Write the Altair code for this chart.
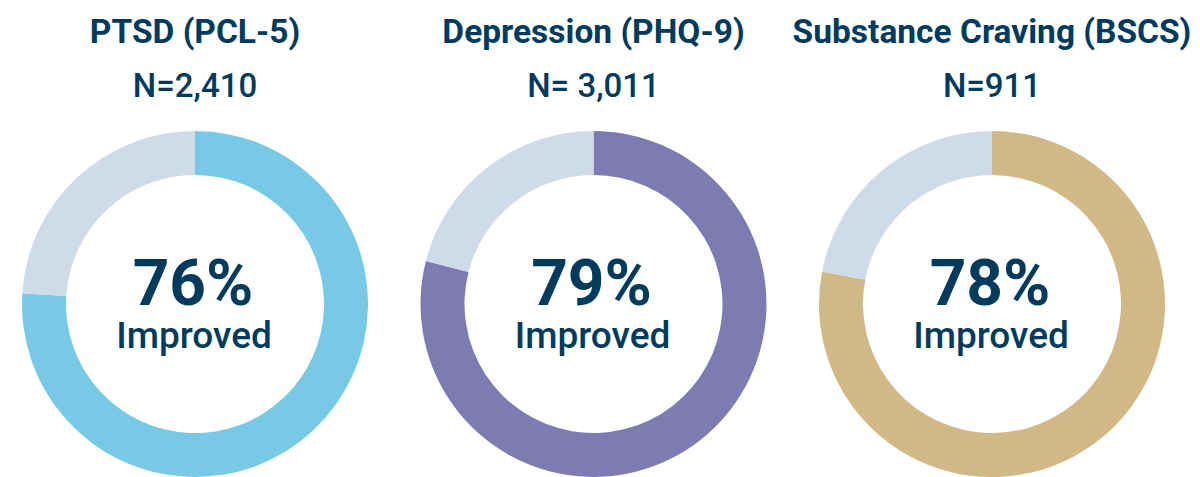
import altair as alt
import pandas as pd

titles = ["PTSD (PCL-5)", "Depression (PHQ-9)", "Substance Craving (BSCS)"]
n_labels = ["N=2,410", "N= 3,011", "N=911"]
improved_pct = [76, 79, 78]
segments = ["Improved", "Not improved"]
main_colors = ["#78C9E5", "#7E7BB3", "#D1B887"]
rest_color = "#CFDBE8"
text_color = "#003A5D"

PANEL_W = 374
PANEL_H = 469
CX = 187
CY = 296


def panel(i):
    p = improved_pct[i]
    arc_df = pd.DataFrame({
        "segment": segments,
        "value": [p, 100 - p],
        "order": [0, 1],
    })
    txt_df = pd.DataFrame({
        "title": [titles[i]],
        "n": [n_labels[i]],
        "pct": [f"{p}%"],
        "label": ["Improved"],
    })
    arcs = alt.Chart(arc_df).mark_arc(innerRadius=129, outerRadius=173).encode(
        theta=alt.Theta("value:Q", stack=True),
        order=alt.Order("order:Q"),
        color=alt.Color("segment:N",
                        scale=alt.Scale(domain=segments, range=[main_colors[i], rest_color]),
                        legend=None),
        x=alt.value(CX),
        y=alt.value(CY),
    )
    base = alt.Chart(txt_df)
    t_title = base.mark_text(font="Roboto", fontSize=33.5, fontWeight="bold",
                             color=text_color, align="center", baseline="alphabetic").encode(
        text="title:N", x=alt.value(CX), y=alt.value(35))
    t_n = base.mark_text(font="Roboto", fontSize=33, fontWeight=500,
                         color=text_color, align="center", baseline="alphabetic").encode(
        text="n:N", x=alt.value(CX), y=alt.value(89))
    t_pct = base.mark_text(font="Roboto", fontSize=64, fontWeight="bold",
                           color=text_color, align="center", baseline="alphabetic").encode(
        text="pct:N", x=alt.value(CX - 2), y=alt.value(297))
    t_lab = base.mark_text(font="Roboto", fontSize=37, fontWeight=500,
                           color=text_color, align="center", baseline="alphabetic").encode(
        text="label:N", x=alt.value(CX - 1), y=alt.value(340))
    return alt.layer(arcs, t_title, t_n, t_pct, t_lab).properties(width=PANEL_W, height=PANEL_H)


chart = alt.hconcat(*[panel(i) for i in range(3)], spacing=24.5, bounds="flush").resolve_scale(
    color="independent"
).properties(padding=0).configure_view(stroke=None)

chart.save("out.html", embed_options={"renderer": "svg", "actions": False})
